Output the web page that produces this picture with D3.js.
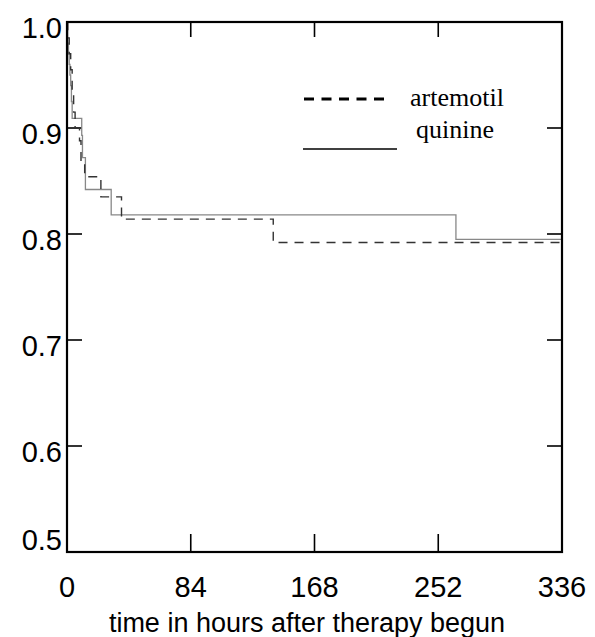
<!DOCTYPE html>
<html>
<head>
<meta charset="utf-8">
<script src="https://cdn.jsdelivr.net/npm/d3@7"></script>
<style>
  body { margin: 0; background: #fff; }
  svg { display: block; }
</style>
</head>
<body>
<div id="chart"></div>
<script>
// survival curves (hours, proportion surviving)
var quinineTime = [0, 0.5, 1, 1.5, 2, 2.5, 3, 3.5, 10, 10.5, 12.5, 30, 264, 336];
var quinineSurv = [1.0, 0.98, 0.97, 0.96, 0.95, 0.94, 0.925, 0.909, 0.893, 0.872, 0.842, 0.818, 0.795, 0.795];

var artemotilTime = [0, 0.5, 1.5, 2.5, 3.5, 4.5, 5.5, 8.5, 9.5, 12, 23, 37, 140, 336];
var artemotilSurv = [1.0, 0.985, 0.97, 0.955, 0.935, 0.915, 0.9, 0.888, 0.868, 0.854, 0.835, 0.814, 0.792, 0.792];

var xTicks = [0, 84, 168, 252, 336];
var yTicks = [0.5, 0.6, 0.7, 0.8, 0.9, 1.0];
var legendNames = ["artemotil", "quinine"];

var width = 595, height = 637;
var mLeft = 67, mTop = 22, mRight = 562, mBottom = 552;

var svg = d3.select("#chart").append("svg").attr("width", width).attr("height", height);

var x = d3.scaleLinear().domain([0, 336]).range([mLeft, mRight]);
var y = d3.scaleLinear().domain([0.5, 1.0]).range([mBottom, mTop]);

var tickLen = 15;
var sans = "Liberation Sans, Arial, sans-serif";

// inner ticks on all four sides
var innerX = xTicks.slice(1, -1);
svg.append("g").selectAll("line")
  .data(innerX).join("line")
  .attr("x1", d => x(d)).attr("x2", d => x(d))
  .attr("y1", mBottom).attr("y2", mBottom - tickLen - 3)
  .attr("stroke", "#000").attr("stroke-width", 1.6);
svg.append("g").selectAll("line")
  .data(innerX).join("line")
  .attr("x1", d => x(d)).attr("x2", d => x(d))
  .attr("y1", mTop).attr("y2", mTop + tickLen)
  .attr("stroke", "#000").attr("stroke-width", 1.6);

var innerY = yTicks.slice(1, -1);
svg.append("g").selectAll("line")
  .data(innerY).join("line")
  .attr("x1", mLeft).attr("x2", mLeft + tickLen)
  .attr("y1", d => y(d)).attr("y2", d => y(d))
  .attr("stroke", "#000").attr("stroke-width", 1.6);
svg.append("g").selectAll("line")
  .data(innerY).join("line")
  .attr("x1", mRight).attr("x2", mRight - tickLen)
  .attr("y1", d => y(d)).attr("y2", d => y(d))
  .attr("stroke", "#000").attr("stroke-width", 1.6);

// tick labels
svg.append("g").selectAll("text")
  .data(yTicks).join("text")
  .attr("x", mLeft - 5)
  .attr("y", d => y(d) + (d === 0.5 ? -2 : 16))
  .attr("text-anchor", "end")
  .style("font-family", sans)
  .style("font-size", "29px")
  .text(d => d.toFixed(1));

svg.append("g").selectAll("text")
  .data(xTicks).join("text")
  .attr("x", d => x(d))
  .attr("y", 597)
  .attr("text-anchor", "middle")
  .style("font-family", sans)
  .style("font-size", "29px")
  .text(d => d);

svg.append("text")
  .attr("x", 307)
  .attr("y", 632)
  .attr("text-anchor", "middle")
  .style("font-family", sans)
  .style("font-size", "27px")
  .text("time in hours after therapy begun");

// curves
var line = d3.line()
  .x(d => x(d[0]))
  .y(d => y(d[1]))
  .curve(d3.curveStepAfter);

svg.append("path")
  .datum(d3.zip(quinineTime, quinineSurv))
  .attr("d", line)
  .attr("fill", "none")
  .attr("stroke", "#888")
  .attr("stroke-width", 1.3);

svg.append("path")
  .datum(d3.zip(artemotilTime, artemotilSurv))
  .attr("d", line)
  .attr("fill", "none")
  .attr("stroke", "#333")
  .attr("stroke-width", 1.4)
  .attr("stroke-dasharray", "9,7");

// frame
svg.append("rect")
  .attr("x", mLeft).attr("y", mTop)
  .attr("width", mRight - mLeft).attr("height", mBottom - mTop)
  .attr("fill", "none")
  .attr("stroke", "#000")
  .attr("stroke-width", 2.2);

// legend
var lg = svg.append("g");
lg.append("line")
  .attr("x1", 304).attr("x2", 384).attr("y1", 99).attr("y2", 99)
  .attr("stroke", "#000").attr("stroke-width", 3)
  .attr("stroke-dasharray", "10,7.5");
lg.append("line")
  .attr("x1", 303).attr("x2", 397).attr("y1", 149).attr("y2", 149)
  .attr("stroke", "#000").attr("stroke-width", 1.6);
lg.selectAll("text")
  .data(legendNames).join("text")
  .attr("x", (d, i) => i === 0 ? 410 : 416)
  .attr("y", (d, i) => i === 0 ? 106 : 138)
  .style("font-family", "Liberation Serif, Times New Roman, serif")
  .style("font-size", "26px")
  .text(d => d);
</script>
</body>
</html>
